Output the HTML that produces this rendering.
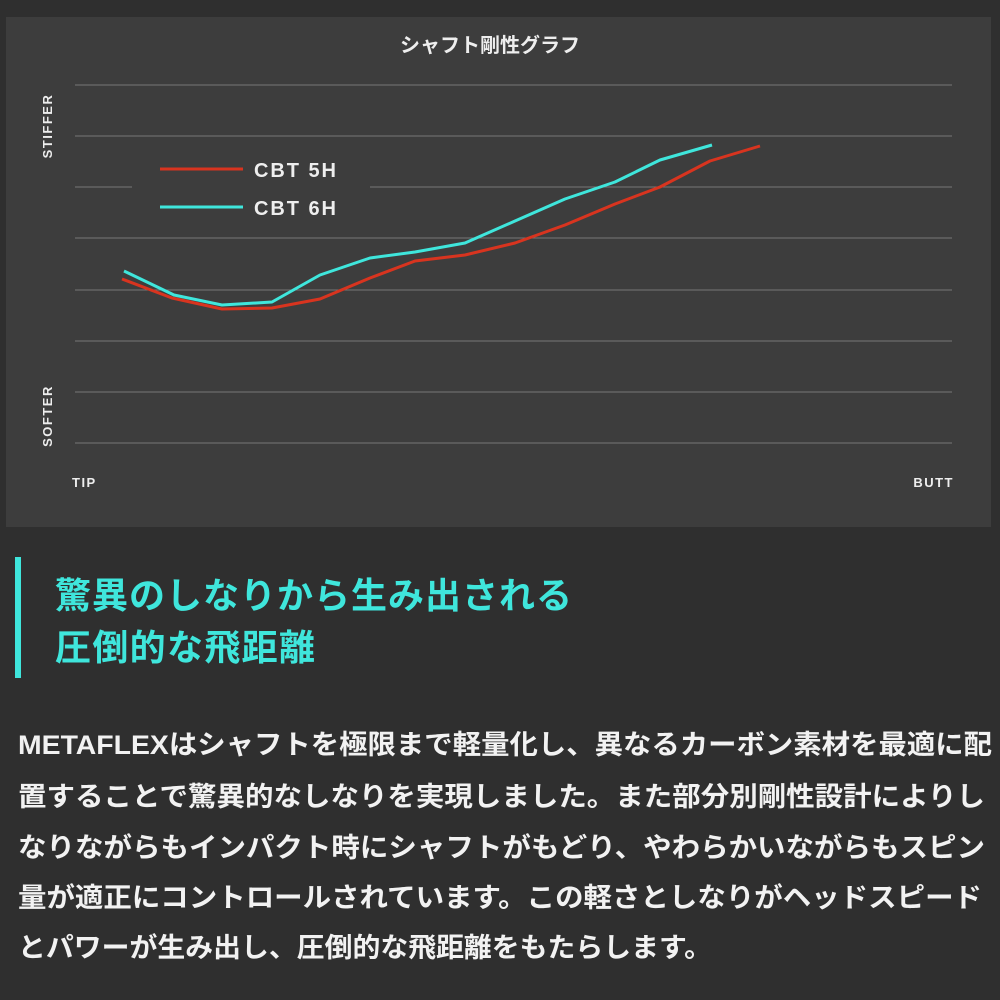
<!DOCTYPE html>
<html><head><meta charset="utf-8"><style>
html,body{margin:0;padding:0;background:#2f2f2f;}
svg{display:block}
</style></head><body>
<svg width="1000" height="1000" viewBox="0 0 1000 1000" xmlns="http://www.w3.org/2000/svg" font-family="'Liberation Sans','Noto Sans CJK JP',sans-serif">
<rect width="1000" height="1000" fill="#2f2f2f"/>
<rect x="6" y="17" width="985" height="510" fill="#3d3d3d"/>
<text x="490" y="52" fill="#eee" font-size="20" font-weight="bold" text-anchor="middle">シャフト剛性グラフ</text>
<g stroke="#777" stroke-width="1">
<line x1="75" y1="85" x2="952" y2="85"/>
<line x1="75" y1="136" x2="952" y2="136"/>
<line x1="75" y1="187" x2="132" y2="187"/>
<line x1="370" y1="187" x2="952" y2="187"/>
<line x1="75" y1="238" x2="952" y2="238"/>
<line x1="75" y1="290" x2="952" y2="290"/>
<line x1="75" y1="341" x2="952" y2="341"/>
<line x1="75" y1="392" x2="952" y2="392"/>
<line x1="75" y1="443" x2="952" y2="443"/>
</g>
<g fill="#eee" font-size="13" font-weight="bold" letter-spacing="1.5">
<text transform="translate(52,126) rotate(-90)" text-anchor="middle">STIFFER</text>
<text transform="translate(52,416) rotate(-90)" text-anchor="middle">SOFTER</text>
<text x="72" y="487">TIP</text>
<text x="954" y="487" text-anchor="end">BUTT</text>
</g>
<line x1="160" y1="169" x2="243" y2="169" stroke="#d8341f" stroke-width="3"/>
<line x1="160" y1="207" x2="243" y2="207" stroke="#3fe6dc" stroke-width="3"/>
<g fill="#eee" font-size="20" font-weight="bold">
<text x="254" y="177" textLength="82">CBT 5H</text>
<text x="254" y="215" textLength="82">CBT 6H</text>
</g>
<polyline fill="none" stroke="#d8341f" stroke-width="3" stroke-linejoin="round" points="122,279 172,298 222,309 272,308 320,299 370,278 415,261 465,255 515,243 565,225 615,204 660,187 710,161 760,146"/>
<polyline fill="none" stroke="#3fe6dc" stroke-width="3" stroke-linejoin="round" points="124,271 174,295 222,305 272,302 320,275 370,258 415,252 465,243 515,221 565,199 615,182 660,160 712,145"/>
<rect x="15" y="557" width="6" height="121" fill="#3fe6dc"/>
<g fill="#3fe6dc" font-size="36" font-weight="bold">
<text x="55" y="608" textLength="517">驚異のしなりから生み出される</text>
<text x="55" y="660" textLength="260">圧倒的な飛距離</text>
</g>
<g fill="#f2f2f2" font-size="27" font-weight="bold">
<text x="18" y="754" textLength="974" lengthAdjust="spacingAndGlyphs">METAFLEXはシャフトを極限まで軽量化し、異なるカーボン素材を最適に配</text>
<text x="18" y="806" textLength="967" lengthAdjust="spacingAndGlyphs">置することで驚異的なしなりを実現しました。また部分別剛性設計によりし</text>
<text x="18" y="857" textLength="967" lengthAdjust="spacingAndGlyphs">なりながらもインパクト時にシャフトがもどり、やわらかいながらもスピン</text>
<text x="18" y="907" textLength="964" lengthAdjust="spacingAndGlyphs">量が適正にコントロールされています。この軽さとしなりがヘッドスピード</text>
<text x="18" y="957" textLength="694" lengthAdjust="spacingAndGlyphs">とパワーが生み出し、圧倒的な飛距離をもたらします。</text>
</g>
</svg>
</body></html>
